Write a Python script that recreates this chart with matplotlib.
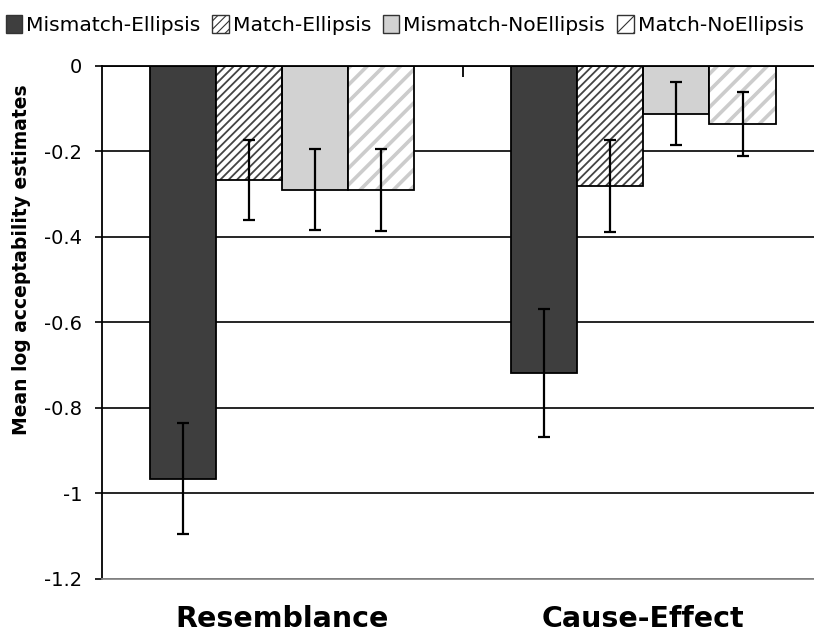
import numpy as np
import matplotlib
matplotlib.use('Agg')
import matplotlib.pyplot as plt
from matplotlib.patches import Patch

plt.rcParams['axes.unicode_minus'] = False
plt.rcParams['font.family'] = 'DejaVu Sans'

categories = ['Resemblance', 'Cause-Effect']
conditions = ['Mismatch-Ellipsis', 'Match-Ellipsis', 'Mismatch-NoEllipsis', 'Match-NoEllipsis']

# means and error bars per condition (Resemblance, Cause-Effect)
mismatch_ellipsis = [-0.965, -0.718]
match_ellipsis = [-0.267, -0.280]
mismatch_noellipsis = [-0.289, -0.112]
match_noellipsis = [-0.290, -0.136]

err_mismatch_ellipsis = [0.13, 0.15]
err_match_ellipsis = [0.093, 0.108]
err_mismatch_noellipsis = [0.094, 0.074]
err_match_noellipsis = [0.096, 0.075]

yticks = [0, -0.2, -0.4, -0.6, -0.8, -1, -1.2]

series = [mismatch_ellipsis, match_ellipsis, mismatch_noellipsis, match_noellipsis]
errors = [err_mismatch_ellipsis, err_match_ellipsis, err_mismatch_noellipsis, err_match_noellipsis]
# (face, hatch, hatch colour, hatch width)
styles = [('#3e3e3e', None, None, None),
          ('white', '////', '#444444', 1.3),
          ('#d2d2d2', None, None, None),
          ('white', '//', '#cccccc', 2.6)]

fig = plt.figure(figsize=(8.14, 6.32), dpi=100)
ax = fig.add_axes([0.1247, 0.0839, 0.8876, 0.8117])

x = np.arange(len(categories))
width = 0.183

for i, (vals, errs, (face, hatch, hcol, hlw)) in enumerate(zip(series, errors, styles)):
    pos = x + (i - 1.5) * width
    if hatch:
        plt.rcParams['hatch.linewidth'] = hlw
        ax.bar(pos, vals, width, color=face, edgecolor=hcol, hatch=hatch,
               linewidth=0, zorder=2)
        ax.bar(pos, vals, width, color='none', edgecolor='black',
               linewidth=1.3, zorder=3)
    else:
        ax.bar(pos, vals, width, color=face, edgecolor='black',
               linewidth=1.3, zorder=2)
    ax.errorbar(pos, vals, yerr=errs, fmt='none', ecolor='black',
                elinewidth=1.6, capsize=4.5, capthick=1.6, zorder=4)

ax.set_xlim(-0.5, 1.5)
ax.set_ylim(-1.2, 0)
ax.set_yticks(yticks)
ax.set_yticklabels([f'{t:g}' for t in yticks], fontsize=14)
ax.yaxis.grid(True, color='black', linewidth=1.2, zorder=1)
ax.set_axisbelow(True)

ax.set_xticks(x)
ax.set_xticklabels(categories, fontsize=20.5, fontweight='bold')
ax.set_xticks([0.5], minor=True)
ax.tick_params(axis='x', which='major', length=0, pad=19)
ax.tick_params(axis='x', which='minor', bottom=False, top=True,
               direction='in', length=8, width=1.3, color='black')
ax.tick_params(axis='y', length=5, width=1.2, pad=9)

ax.spines['right'].set_visible(False)
ax.spines['top'].set_color('black')
ax.spines['top'].set_linewidth(1.3)
ax.spines['left'].set_linewidth(1.3)
ax.spines['bottom'].set_color('#8a8a8a')
ax.spines['bottom'].set_linewidth(1.3)

ax.set_ylabel('Mean log acceptability estimates', fontsize=13.5,
              fontweight='bold')
ax.yaxis.set_label_coords(-0.098, 0.622)

# legend swatches, thin hatch
plt.rcParams['hatch.linewidth'] = 0.8
handles = []
for face, hatch, hcol, hlw in styles:
    handles.append(Patch(facecolor=face, edgecolor='#333333', hatch=hatch,
                         linewidth=1))
fig.legend(handles, conditions, loc='upper center', bbox_to_anchor=(0.497, 1.005),
           ncol=4, frameon=False, fontsize=14.6, handlelength=0.8,
           handleheight=1.0, handletextpad=0.2, columnspacing=0.6)

fig.savefig('out.png', dpi=100)
